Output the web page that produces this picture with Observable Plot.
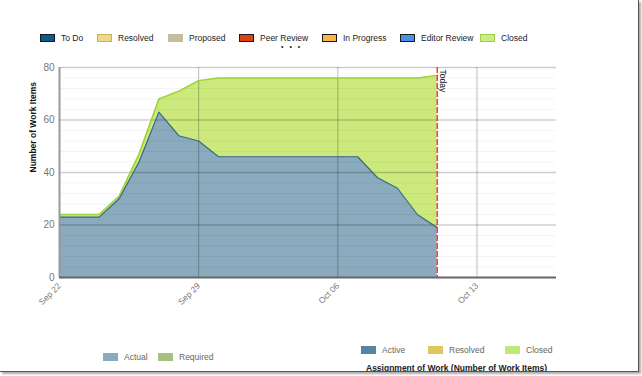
<!DOCTYPE html>
<html>
<head>
<meta charset="utf-8">
<script src="https://cdn.jsdelivr.net/npm/d3@7"></script>
<script src="https://cdn.jsdelivr.net/npm/@observablehq/plot@0.6"></script>
<style>
  html, body { margin: 0; padding: 0; background: #fff; }
  #wrap { position: relative; width: 642px; height: 376px; overflow: hidden; font-family: "Liberation Sans", Arial, sans-serif; }
  #frame { position: absolute; left: 0; top: 0; width: 638px; height: 371px; border-right: 1px solid #555; border-bottom: 1px solid #555; box-shadow: 2px 2px 2px #aaa; overflow: hidden; }
  #plot { position: absolute; left: 0; top: 55px; width: 642px; }
  #plot svg { max-width: none !important; }
  .lg { position: absolute; font-size: 8.5px; color: #222; white-space: nowrap; line-height: 10px; }
  .sw { position: absolute; width: 15px; height: 8px; box-sizing: border-box; }
  .title { position: absolute; font-size: 8.5px; font-weight: bold; color: #222; white-space: nowrap; }
</style>
</head>
<body>
<div id="wrap">
  <div id="frame">
    <div id="plot"></div>
    <div id="legendTop"></div>
    <div class="lg" style="left:281px;top:44px;font-size:7px;line-height:5px;letter-spacing:2px;">• • •</div>
    <div id="legendBL"></div>
    <div id="legendBR"></div>
    <div class="title" style="left:366px;top:363px;">Assignment of Work (Number of Work Items)</div>
  </div>
</div>
<script>
// ---- data ----
const dates = ["2013-09-22","2013-09-23","2013-09-24","2013-09-25","2013-09-26","2013-09-27","2013-09-28","2013-09-29","2013-09-30",
  "2013-10-01","2013-10-02","2013-10-03","2013-10-04","2013-10-05","2013-10-06","2013-10-07","2013-10-08","2013-10-09","2013-10-10","2013-10-11"];
const active = [23,23,23,30,44,63,54,52,46,46,46,46,46,46,46,46,38,34,24,19];
const closed = [1,1,1,1,3,5,17,23,30,30,30,30,30,30,30,30,38,42,52,58];
const todayDate = "2013-10-11";
const xDomain = ["2013-09-22","2013-10-17"];
const xTicks = ["2013-09-22","2013-09-29","2013-10-06","2013-10-13"];
const yTicks = [0,20,40,60,80];

const topLegend = ["To Do","Resolved","Proposed","Peer Review","In Progress","Editor Review","Closed"];
const topLegendColors = ["#0d5b8c","#ead88c","#c4bc9c","#dc4312","#f7b448","#4a8fe8","#c8ee82"];
const topLegendBorders = ["#1a1a1a","#c9b25a","#c4bc9c","#1a1a1a","#1a1a1a","#1a1a1a","#9fd04a"];
const topLegendX = [40,97,168,239,322,400,480];

const blLegend = ["Actual","Required"];
const blColors = ["#8aaabd","#a8bf80"];
const blX = [103,158];

const brLegend = ["Active","Resolved","Closed"];
const brColors = ["#5784a0","#dfc65e","#c0e874"];
const brX = [361,428,505];

// ---- table ----
const parse = d3.utcParse("%Y-%m-%d");
const data = dates.map((d, i) => ({date: parse(d), active: active[i], total: active[i] + closed[i]}));

const blue = "#8aaabd", blueStroke = "#3d6a7c";
const green = "#cbe97c", greenStroke = "#9fd23a";

const chart = Plot.plot({
  width: 642,
  height: 260,
  marginLeft: 59,
  marginRight: 86,
  marginTop: 12,
  marginBottom: 38,
  style: {fontFamily: "'Liberation Sans', Arial, sans-serif", background: "transparent", maxWidth: "none"},
  x: {type: "utc", domain: xDomain.map(parse)},
  y: {domain: [0, 80]},
  marks: [
    Plot.areaY(data, {x: "date", y1: "active", y2: "total", fill: green, curve: "linear"}),
    Plot.areaY(data, {x: "date", y1: 0, y2: "active", fill: blue, curve: "linear"}),
    Plot.gridY({ticks: d3.range(0, 81, 4), stroke: "#000", strokeOpacity: 0.045, strokeWidth: 1}),
    Plot.gridY({ticks: yTicks.slice(1), stroke: "#000", strokeOpacity: 0.16, strokeWidth: 1.5}),
    Plot.gridX({ticks: xTicks.slice(1).map(parse), stroke: "#000", strokeOpacity: 0.25, strokeWidth: 1}),
    Plot.lineY(data, {x: "date", y: "total", stroke: greenStroke, strokeWidth: 1.5}),
    Plot.lineY(data, {x: "date", y: "active", stroke: blueStroke, strokeWidth: 1.2}),
    Plot.ruleX([parse(todayDate)], {stroke: "#ff1a1a", strokeWidth: 1.3, strokeDasharray: "6,2"}),
    Plot.text([parse(todayDate)], {x: d => d, y: 80, text: () => "Today", rotate: 90, textAnchor: "start", dx: 6, dy: 2, fontSize: 8.5, fill: "#111"}),
    Plot.ruleX([xDomain[0]].map(parse), {stroke: "#999", strokeWidth: 2}),
    Plot.ruleY([0], {stroke: "#666", strokeWidth: 2}),
    Plot.axisY({ticks: yTicks, tickSize: 0, tickPadding: 5, fontSize: 10, color: "#777", label: null}),
    Plot.axisX({ticks: xTicks.map(parse), tickFormat: d3.utcFormat("%b %d"), tickRotate: -45, tickSize: 0, tickPadding: 7, fontSize: 8.5, color: "#777", label: null}),
    Plot.text(["Number of Work Items"], {frameAnchor: "left", text: d => d, rotate: -90, dx: -26, fontSize: 8.5, fontWeight: "bold", fill: "#111"})
  ]
});
document.getElementById("plot").appendChild(chart);

function legend(el, labels, colors, borders, xs, top) {
  const host = document.getElementById(el);
  labels.forEach((t, i) => {
    const sw = document.createElement("div");
    sw.className = "sw";
    sw.style.left = xs[i] + "px";
    sw.style.top = (top - 4) + "px";
    sw.style.background = colors[i];
    sw.style.border = borders ? ("1.5px solid " + borders[i]) : "none";
    host.appendChild(sw);
    const tx = document.createElement("div");
    tx.className = "lg";
    tx.style.left = (xs[i] + 21) + "px";
    tx.style.top = (top - 5) + "px";
    tx.textContent = t;
    host.appendChild(tx);
  });
}
legend("legendTop", topLegend, topLegendColors, topLegendBorders, topLegendX, 38);
legend("legendBL", blLegend, blColors, null, blX, 357);
legend("legendBR", brLegend, brColors, null, brX, 350);
document.querySelectorAll("#legendBL .lg, #legendBR .lg").forEach(e => e.style.color = "#666");
</script>
</body>
</html>
